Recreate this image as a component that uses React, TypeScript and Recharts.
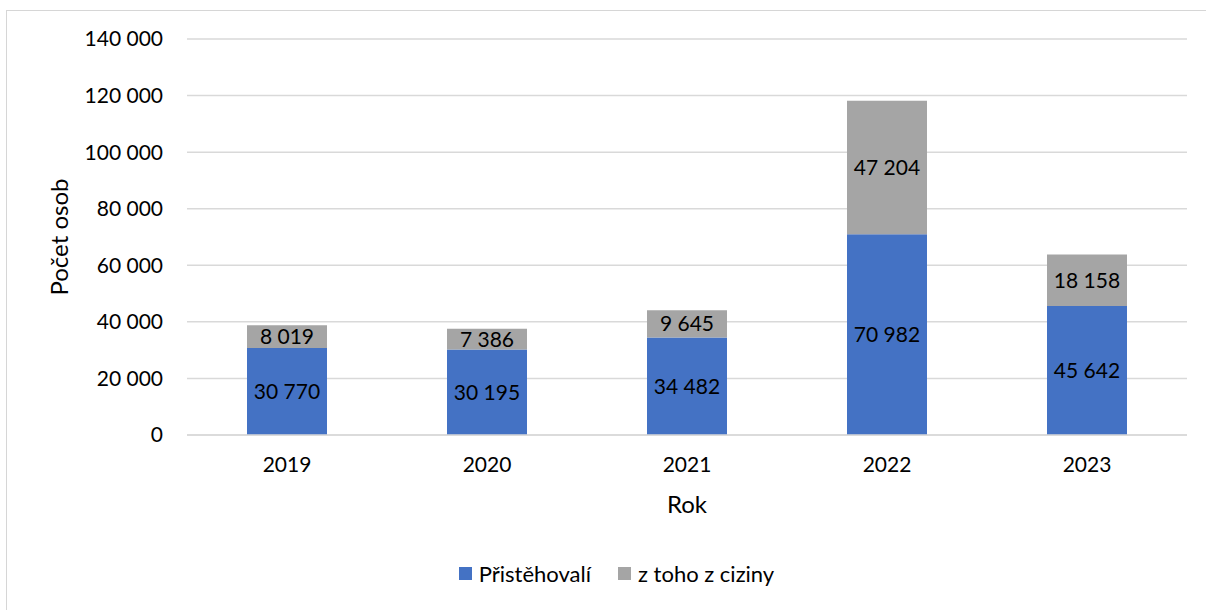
import React from 'react';
import { BarChart, Bar, XAxis, YAxis, CartesianGrid, Legend, LabelList } from 'recharts';

const years = ['2019', '2020', '2021', '2022', '2023'];
const pristehovali = [30770, 30195, 34482, 70982, 45642];
const zCiziny = [8019, 7386, 9645, 47204, 18158];
const yTicks = [0, 20000, 40000, 60000, 80000, 100000, 120000, 140000];

const seriesNames = { a: 'Přistěhovalí', b: 'z toho z ciziny' };
const BLUE = '#4472C4';
const GRAY = '#A5A5A5';
const FONT = 'Lato, "Open Sans", sans-serif';

const fmt = (v: number) => String(v).replace(/\B(?=(\d{3})+(?!\d))/g, ' ');

const data = years.map((y, i) => ({ rok: y, a: pristehovali[i], b: zCiziny[i] }));

const LegendContent = () => (
    <div style={{ display: 'flex', justifyContent: 'center', alignItems: 'center', gap: 27, paddingLeft: 46, fontFamily: FONT, fontSize: 22, color: '#000' }}>
        {[{ name: seriesNames.a, color: BLUE }, { name: seriesNames.b, color: GRAY }].map(item => (
            <div key={item.name} style={{ display: 'flex', alignItems: 'center' }}>
                <span style={{ width: 13, height: 13, background: item.color, display: 'inline-block', marginRight: 7 }} />
                <span>{item.name}</span>
            </div>
        ))}
    </div>
);

const App: React.FC = () => {
    return (
        <div style={{ position: 'absolute', left: 0, top: 0, width: 1206, height: 610, overflow: 'hidden', background: '#fff' }}>
            {/* chart frame, cut off on the right and bottom like the source */}
            <div style={{ position: 'absolute', left: 6, top: 10, width: 1240, height: 640, border: '1px solid #D6D6D6' }} />
            <div style={{ position: 'absolute', left: 0, top: 0 }}>
                <BarChart
                    width={1206}
                    height={610}
                    data={data}
                    margin={{ top: 39, right: 19, left: 0, bottom: 20 }}
                    barCategoryGap="30%"
                >
                    <CartesianGrid vertical={false} stroke="#D9D9D9" strokeWidth={1.5} />
                    <XAxis
                        dataKey="rok"
                        axisLine={{ stroke: '#D9D9D9', strokeWidth: 1.5 }}
                        tickLine={false}
                        tickSize={0}
                        tickMargin={22}
                        height={125}
                        tick={{ fill: '#000', fontSize: 21, fontFamily: FONT }}
                        label={{ value: 'Rok', position: 'insideTop', offset: 61, fill: '#000', fontSize: 24, fontFamily: FONT }}
                    />
                    <YAxis
                        domain={[0, 140000]}
                        ticks={yTicks}
                        width={187}
                        axisLine={false}
                        tickLine={false}
                        tickSize={0}
                        tickMargin={24}
                        tickFormatter={fmt}
                        tick={{ fill: '#000', fontSize: 21, fontFamily: FONT }}
                        label={{ value: 'Počet osob', angle: -90, position: 'center', dx: -34, fill: '#000', fontSize: 24, fontFamily: FONT }}
                    />
                    <Legend verticalAlign="bottom" height={30} content={<LegendContent />} />
                    <Bar dataKey="a" name={seriesNames.a} stackId="s" fill={BLUE} isAnimationActive={false}>
                        <LabelList dataKey="a" position="center" formatter={(v: any) => fmt(Number(v))} fill="#000" fontSize={21} fontFamily={FONT} />
                    </Bar>
                    <Bar dataKey="b" name={seriesNames.b} stackId="s" fill={GRAY} isAnimationActive={false}>
                        <LabelList dataKey="b" position="center" formatter={(v: any) => fmt(Number(v))} fill="#000" fontSize={21} fontFamily={FONT} />
                    </Bar>
                </BarChart>
            </div>
        </div>
    );
};

export default App;
